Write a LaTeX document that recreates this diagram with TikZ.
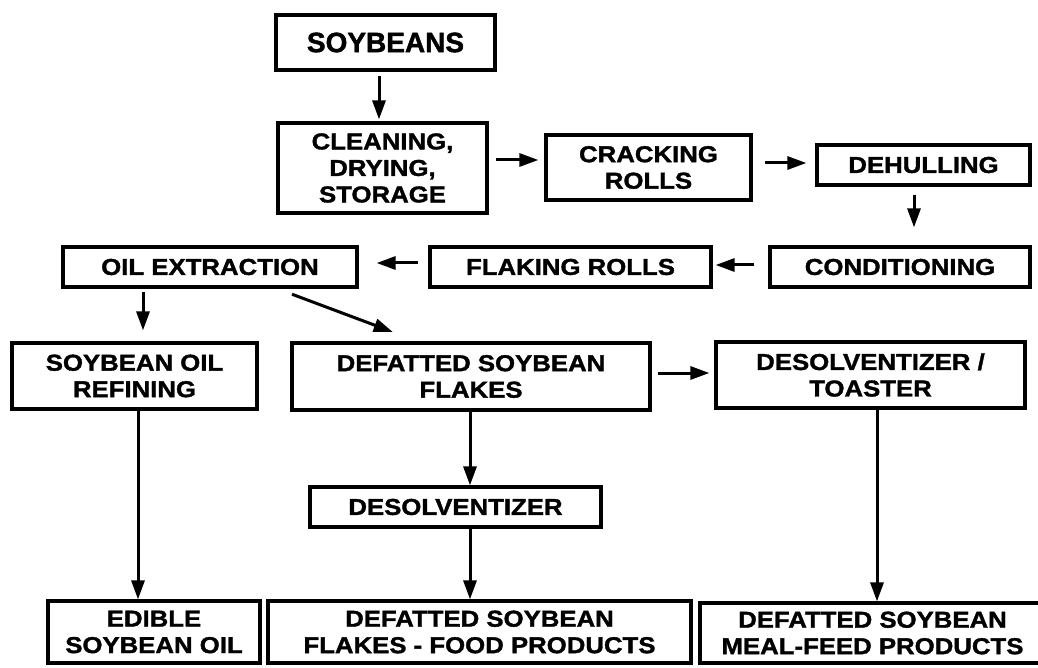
\documentclass[tikz,border=0pt]{standalone}
\usepackage{fontspec}
\newfontfamily\flowfont[FakeStretch=1.12,FakeBold=1.5]{Liberation Sans}
\newfontfamily\headfont[FakeStretch=1.0,FakeBold=1.5]{Liberation Sans}
\usetikzlibrary{arrows.meta}
\begin{document}
\begin{tikzpicture}[
   x=1pt,y=-1pt,
   stage/.style={draw,line width=3.2pt,inner sep=0pt,align=center,
     font=\flowfont\bfseries\fontsize{23}{26.5}\selectfont},
   flow/.style={line width=3pt,-{Triangle[length=19pt,width=13pt]}}
 ]
  \useasboundingbox (0,0) rectangle (1038,668);
  % preparation
  \node[stage,minimum width=219pt,minimum height=55pt,
        font=\headfont\bfseries\fontsize{28}{30}\selectfont] (soybeans) at (385.5,42.5) {SOYBEANS};
  \node[stage,minimum width=209pt,minimum height=90pt] (cleaning) at (382.5,168) {CLEANING,\\DRYING,\\STORAGE};
  \node[stage,minimum width=205pt,minimum height=65pt] (cracking) at (648.5,167.5) {CRACKING\\ROLLS};
  \node[stage,minimum width=213pt,minimum height=40pt] (dehulling) at (923.5,165) {DEHULLING};
  \node[stage,minimum width=260pt,minimum height=40pt] (conditioning) at (900,267) {CONDITIONING};
  \node[stage,minimum width=281pt,minimum height=40pt] (flaking) at (570.5,267) {FLAKING ROLLS};
  \node[stage,minimum width=294pt,minimum height=40pt] (extraction) at (210,267) {OIL EXTRACTION};
  % processing
  \node[stage,minimum width=245pt,minimum height=66pt] (refining) at (134.5,376) {SOYBEAN OIL\\REFINING};
  \node[stage,minimum width=358pt,minimum height=67pt] (defatted) at (471,376.5) {DEFATTED SOYBEAN\\FLAKES};
  \node[stage,minimum width=309pt,minimum height=66pt] (toaster) at (870.5,375) {DESOLVENTIZER /\\TOASTER};
  \node[stage,minimum width=291pt,minimum height=40pt] (desolv) at (455.5,507) {DESOLVENTIZER};
  % products
  \node[stage,minimum width=212pt,minimum height=62pt] (edible) at (154,632) {EDIBLE\\SOYBEAN OIL};
  \node[stage,minimum width=423pt,minimum height=62pt] (food) at (479.5,632) {DEFATTED SOYBEAN\\FLAKES - FOOD PRODUCTS};
  \node[stage,minimum width=345pt,minimum height=60pt] (meal) at (872.5,633) {DEFATTED SOYBEAN\\MEAL-FEED PRODUCTS};

  \draw[flow,shorten <=4pt,shorten >=2pt] ([xshift=-6.5pt]soybeans.south) -- ([xshift=-3.5pt]cleaning.north);
  \draw[flow,shorten <=7pt,shorten >=6pt] ([yshift=8pt]cleaning.east) -- ([yshift=7.5pt]cracking.west);
  \draw[flow,shorten <=12pt,shorten >=9pt] ([yshift=4.5pt]cracking.east) -- ([yshift=2pt]dehulling.west);
  \draw[flow,shorten <=8pt,shorten >=18pt] ([xshift=-9.5pt]dehulling.south) -- ([xshift=14pt]conditioning.north);
  \draw[flow,shorten <=14pt,shorten >=3pt] ([yshift=2pt]conditioning.west) -- ([yshift=2pt]flaking.east);
  \draw[flow,shorten <=10pt,shorten >=18pt] ([yshift=4pt]flaking.west) -- ([yshift=4pt]extraction.east);
  \draw[flow,shorten <=3pt,shorten >=11pt] ([xshift=-67pt]extraction.south) -- ([xshift=8.5pt]refining.north);
  \draw[flow,shorten <=16pt,shorten >=27pt] ([xshift=67pt]extraction.south) -- ([xshift=-53pt]defatted.north);
  \draw[flow,shorten <=6pt,shorten >=5pt] ([yshift=3.5pt]defatted.east) -- ([yshift=2pt]toaster.west);
  \draw[flow] ([xshift=-1pt]defatted.south) -- ([xshift=14.5pt]desolv.north);
  \draw[flow] ([xshift=14.5pt]desolv.south) -- ([xshift=-9.5pt]food.north);
  \draw[flow] ([xshift=3.5pt]refining.south) -- ([xshift=-16pt]edible.north);
  \draw[flow] ([xshift=6.5pt]toaster.south) -- ([xshift=4.5pt]meal.north);
\end{tikzpicture}
\end{document}
